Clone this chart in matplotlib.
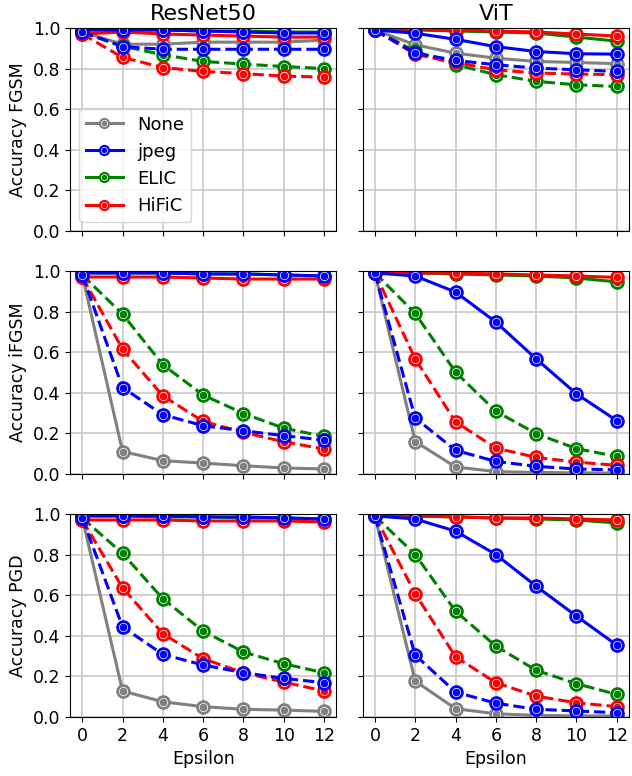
"""Accuracy vs. attack strength for compressed inputs, ResNet50 and ViT."""

import matplotlib
matplotlib.use("Agg")
import matplotlib.pyplot as plt
from matplotlib.legend_handler import HandlerTuple

epsilons = [0, 2, 4, 6, 8, 10, 12]
models = ["ResNet50", "ViT"]
attacks = ["FGSM", "iFGSM", "PGD"]
methods = ["None", "jpeg", "ELIC", "HiFiC"]
colors = {"None": "gray", "jpeg": "blue", "ELIC": "green", "HiFiC": "red"}

# solid lines (first variant), keyed by (model, attack)
solid = {
    ("ResNet50", "FGSM"): {
        "None": [0.98, 0.92, 0.92, 0.93, 0.93, 0.93, 0.94],
        "jpeg": [0.99, 0.99, 0.99, 0.985, 0.98, 0.975, 0.975],
        "ELIC": [0.99, 0.99, 0.99, 0.985, 0.985, 0.98, 0.98],
        "HiFiC": [0.97, 0.98, 0.97, 0.965, 0.96, 0.955, 0.955],
    },
    ("ViT", "FGSM"): {
        "None": [0.99, 0.917, 0.876, 0.851, 0.835, 0.83, 0.824],
        "jpeg": [0.99, 0.974, 0.944, 0.908, 0.884, 0.873, 0.871],
        "ELIC": [0.99, 0.99, 0.985, 0.98, 0.975, 0.955, 0.935],
        "HiFiC": [0.99, 0.995, 0.99, 0.985, 0.98, 0.97, 0.96],
    },
    ("ResNet50", "iFGSM"): {
        "None": [0.98, 0.111, 0.066, 0.054, 0.041, 0.03, 0.025],
        "jpeg": [0.99, 0.99, 0.99, 0.985, 0.985, 0.98, 0.975],
        "ELIC": [0.99, 0.99, 0.99, 0.985, 0.985, 0.98, 0.975],
        "HiFiC": [0.97, 0.97, 0.97, 0.965, 0.96, 0.96, 0.96],
    },
    ("ViT", "iFGSM"): {
        "None": [0.99, 0.16, 0.035, 0.012, 0.008, 0.006, 0.005],
        "jpeg": [0.99, 0.975, 0.896, 0.748, 0.567, 0.395, 0.263],
        "ELIC": [0.99, 0.99, 0.985, 0.98, 0.975, 0.965, 0.946],
        "HiFiC": [0.99, 0.99, 0.99, 0.985, 0.98, 0.975, 0.968],
    },
    ("ResNet50", "PGD"): {
        "None": [0.98, 0.128, 0.075, 0.051, 0.038, 0.034, 0.028],
        "jpeg": [0.99, 0.99, 0.99, 0.985, 0.985, 0.98, 0.975],
        "ELIC": [0.99, 0.99, 0.985, 0.985, 0.98, 0.98, 0.975],
        "HiFiC": [0.97, 0.97, 0.97, 0.965, 0.965, 0.965, 0.96],
    },
    ("ViT", "PGD"): {
        "None": [0.99, 0.177, 0.041, 0.016, 0.008, 0.006, 0.005],
        "jpeg": [0.99, 0.975, 0.915, 0.80, 0.644, 0.497, 0.354],
        "ELIC": [0.99, 0.99, 0.985, 0.98, 0.975, 0.97, 0.955],
        "HiFiC": [0.99, 0.99, 0.985, 0.98, 0.98, 0.975, 0.97],
    },
}

# dashed lines (second variant); no dashed line for "None"
dashed = {
    ("ResNet50", "FGSM"): {
        "jpeg": [0.98, 0.908, 0.895, 0.895, 0.895, 0.895, 0.895],
        "ELIC": [0.98, 0.91, 0.868, 0.835, 0.822, 0.81, 0.80],
        "HiFiC": [0.97, 0.855, 0.805, 0.786, 0.775, 0.763, 0.758],
    },
    ("ViT", "FGSM"): {
        "jpeg": [0.99, 0.876, 0.84, 0.819, 0.802, 0.794, 0.786],
        "ELIC": [0.99, 0.885, 0.819, 0.77, 0.737, 0.72, 0.712],
        "HiFiC": [0.99, 0.87, 0.83, 0.794, 0.778, 0.773, 0.77],
    },
    ("ResNet50", "iFGSM"): {
        "jpeg": [0.98, 0.426, 0.292, 0.238, 0.213, 0.189, 0.167],
        "ELIC": [0.98, 0.787, 0.538, 0.389, 0.298, 0.226, 0.185],
        "HiFiC": [0.97, 0.615, 0.385, 0.259, 0.205, 0.159, 0.123],
    },
    ("ViT", "iFGSM"): {
        "jpeg": [0.99, 0.276, 0.117, 0.062, 0.038, 0.025, 0.021],
        "ELIC": [0.99, 0.791, 0.502, 0.309, 0.199, 0.125, 0.087],
        "HiFiC": [0.99, 0.567, 0.257, 0.128, 0.082, 0.059, 0.043],
    },
    ("ResNet50", "PGD"): {
        "jpeg": [0.98, 0.444, 0.308, 0.256, 0.218, 0.19, 0.169],
        "ELIC": [0.98, 0.805, 0.582, 0.423, 0.32, 0.262, 0.218],
        "HiFiC": [0.97, 0.636, 0.41, 0.287, 0.218, 0.172, 0.128],
    },
    ("ViT", "PGD"): {
        "jpeg": [0.99, 0.305, 0.123, 0.068, 0.038, 0.03, 0.021],
        "ELIC": [0.99, 0.80, 0.521, 0.349, 0.23, 0.164, 0.111],
        "HiFiC": [0.99, 0.607, 0.297, 0.169, 0.103, 0.07, 0.051],
    },
}

draw_order = ["None", "ELIC", "HiFiC", "jpeg"]


def ringed_line(ax, x, y, color, ls):
    """Line with a filled circle marker and a thin white inner ring."""
    outer, = ax.plot(x, y, color=color, ls=ls, lw=2.2, marker="o", ms=9.5,
                     mfc=color, mec=color)
    inner, = ax.plot(x, y, ls="none", marker="o", ms=6, mfc=color,
                     mec="white", mew=0.5)
    return outer, inner


fig, axes = plt.subplots(3, 2, figsize=(6.32, 7.76), dpi=100,
                         sharex=True, sharey=True)
fig.subplots_adjust(left=0.111, right=0.995, top=0.964, bottom=0.076,
                    hspace=0.196, wspace=0.1)

handles = {}
for r, attack in enumerate(attacks):
    for c, model in enumerate(models):
        ax = axes[r, c]
        ax.grid(True, color="#c8c8c8", lw=1.2)
        ax.set_axisbelow(True)
        for m in draw_order:
            h = ringed_line(ax, epsilons, solid[(model, attack)][m],
                            colors[m], "-")
            handles[m] = h
        for m in draw_order:
            if m in dashed[(model, attack)]:
                ringed_line(ax, epsilons, dashed[(model, attack)][m],
                            colors[m], "--")
        ax.set_ylim(0, 1)
        ax.set_xticks(epsilons)
        ax.tick_params(labelsize=12.5)
        if r == 0:
            ax.set_title(model, fontsize=16)
        if c == 0:
            ax.set_ylabel(f"Accuracy {attack}", fontsize=12.5)
        if r == 2:
            ax.set_xlabel("Epsilon", fontsize=12.5)

axes[0, 0].legend([handles[m] for m in methods], methods, loc="lower left",
                  fontsize=13, markerscale=0.75,
                  handler_map={tuple: HandlerTuple(ndivide=1)})

fig.savefig("out.png", dpi=100)
